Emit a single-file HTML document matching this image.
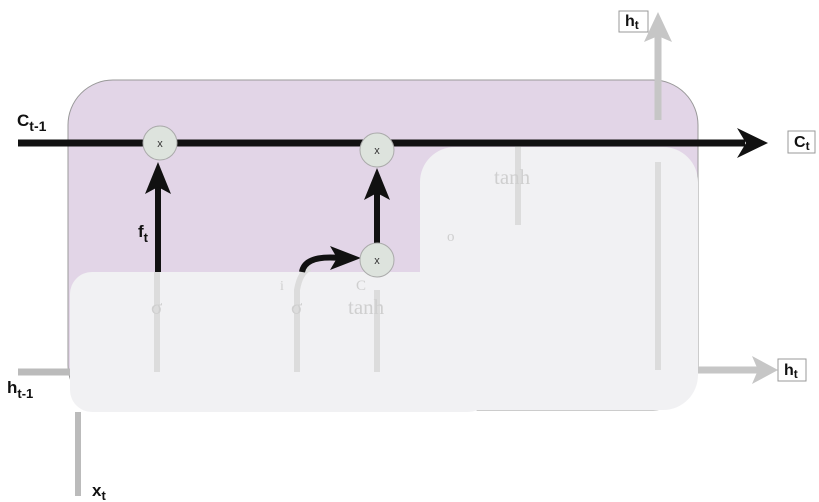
<!DOCTYPE html>
<html><head><meta charset="utf-8"><style>
html,body{margin:0;padding:0;background:#fff}
svg{display:block;font-family:"Liberation Sans",sans-serif}
</style></head><body>
<svg width="819" height="502" viewBox="0 0 819 502">
<rect x="68" y="80" width="630" height="330" rx="45" fill="#e2d5e7" stroke="#999" stroke-width="1"/>
<rect x="70" y="272" width="420" height="140" rx="22" fill="#f1f1f3"/>
<rect x="420" y="147" width="278" height="263" rx="35" fill="#f1f1f3"/>
<g stroke="#dcdcdc" stroke-width="6" fill="none">
<line x1="157" y1="272" x2="157" y2="372"/><line x1="377" y1="290" x2="377" y2="372"/>
<path d="M297 372 L297 290 Q300 272 310 268"/><line x1="518" y1="140" x2="518" y2="225"/>
<line x1="658" y1="162" x2="658" y2="370"/>
</g>
<g fill="#cfcfcf" font-family="Liberation Serif,serif" font-size="21">
<text x="151" y="314">σ</text><text x="291" y="314">σ</text><text x="348" y="314">tanh</text><text x="494" y="184">tanh</text>
<text x="280" y="290" font-size="14">i</text><text x="356" y="290" font-size="15">C</text><text x="447" y="241" font-size="15">o</text>
</g>
<line x1="18" y1="372" x2="70" y2="372" stroke="#bbb" stroke-width="7"/>
<line x1="78" y1="412" x2="78" y2="496" stroke="#bbb" stroke-width="6"/>
<line x1="698" y1="370" x2="760" y2="370" stroke="#c6c6c6" stroke-width="7"/>
<path d="M752 356 L778 370 L752 384 L758 370 z" fill="#c6c6c6"/>
<line x1="658" y1="120" x2="658" y2="35" stroke="#c6c6c6" stroke-width="7"/>
<path d="M644 42 L658 12 L672 42 L658 36 z" fill="#c6c6c6"/>
<line x1="18" y1="143" x2="745" y2="143" stroke="#111" stroke-width="7"/>
<path d="M737 128 L768 143 L737 158 L746 143 z" fill="#111"/>
<line x1="158" y1="272" x2="158" y2="185" stroke="#111" stroke-width="6"/>
<path d="M145 194 L158 162 L171 194 L158 187 z" fill="#111"/>
<line x1="377" y1="243" x2="377" y2="190" stroke="#111" stroke-width="6"/>
<path d="M364 200 L377 168 L390 200 L377 193 z" fill="#111"/>
<path d="M302 272 Q305 255 340 258" stroke="#111" stroke-width="6" fill="none"/>
<path d="M330 246 L361 258 L330 270 L337 258 z" fill="#111"/>
<g fill="#dde3dd" stroke="#aaa" stroke-width="1">
<circle cx="160" cy="143" r="17"/><circle cx="377" cy="150" r="17"/><circle cx="377" cy="260" r="17"/>
</g>
<g font-size="11" fill="#333" text-anchor="middle"><text x="160" y="147">x</text><text x="377" y="154">x</text><text x="377" y="264">x</text></g>
<g font-weight="bold" fill="#111" font-size="17">
<text x="17" y="126">C<tspan font-size="14" dy="5">t-1</tspan></text>
<text x="138" y="237">f<tspan font-size="13" dy="5">t</tspan></text>
<text x="7" y="393">h<tspan font-size="13" dy="5">t-1</tspan></text>
<text x="92" y="496">x<tspan font-size="13" dy="4">t</tspan></text>
</g>
<g fill="#fff" stroke="#999" stroke-width="1">
<rect x="788" y="131" width="27" height="22"/><rect x="778" y="359" width="28" height="22"/><rect x="619" y="11" width="29" height="21"/>
</g>
<g font-weight="bold" fill="#111" font-size="16">
<text x="794" y="147">C<tspan font-size="12" dy="3">t</tspan></text>
<text x="784" y="375">h<tspan font-size="12" dy="3">t</tspan></text>
<text x="625" y="26">h<tspan font-size="12" dy="3">t</tspan></text>
</g>
</svg>
</body></html>
